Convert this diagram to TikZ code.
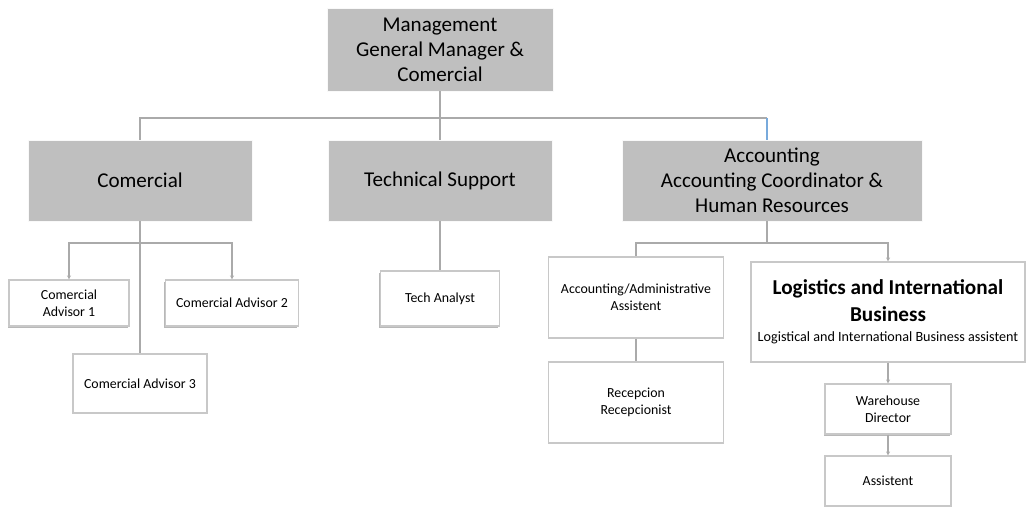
\documentclass[tikz,border=0pt]{standalone}
\usepackage{fontspec}
\setmainfont{Carlito}
\usetikzlibrary{arrows.meta,shadows}

\definecolor{boxgray}{RGB}{191,191,191}
\definecolor{linegray}{RGB}{170,170,170}
\definecolor{edgegray}{RGB}{200,200,200}
\definecolor{linkblue}{RGB}{120,170,220}

\tikzset{
  headbox/.style={fill=boxgray, draw=white!90!boxgray, line width=0.6pt, align=center,
    inner sep=2pt, font=\fontsize{15.8}{18.75}\selectfont},
  unitbox/.style={fill=white, draw=edgegray, line width=0.8pt, align=center,
    inner sep=2pt, font=\fontsize{10.4}{12.75}\selectfont},
  lifted/.style={drop shadow={shadow xshift=-0.8pt, shadow yshift=-1.4pt, fill=gray!70, opacity=0.8}},
  link/.style={draw=linegray, line width=1.4pt},
  tolink/.style={link, -{Stealth[length=3pt,width=3pt]}},
}

\begin{document}
\begin{tikzpicture}[x=0.75pt,y=-0.75pt]
  \useasboundingbox (0,0) rectangle (1029,507);

  % top level
  \node[headbox, minimum width=169.5pt, minimum height=62.25pt] (mgmt) at (440,49.5)
    {Management\\General Manager \&\\Comercial};

  % departments
  \node[headbox, minimum width=168pt, minimum height=60.75pt] (com) at (140,180.5) {Comercial};
  \node[headbox, minimum width=168pt, minimum height=60.75pt] (tech) at (440,180.5) {Technical Support};
  \node[headbox, minimum width=225pt, minimum height=60.75pt] (acc) at (772,180.5)
    {Accounting\\Accounting Coordinator \&\\Human Resources};

  % comercial staff
  \node[unitbox, lifted, minimum width=90pt, minimum height=34.5pt] (adv1) at (69,303) {Comercial\\Advisor 1};
  \node[unitbox, lifted, minimum width=99.75pt, minimum height=34.5pt] (adv2) at (232,303) {Comercial Advisor 2};
  \node[unitbox, minimum width=100.5pt, minimum height=44.25pt] (adv3) at (140,383.5) {Comercial Advisor 3};

  % technical staff
  \node[unitbox, lifted, minimum width=89.25pt, minimum height=41.25pt] (analyst) at (440,298.5) {Tech Analyst};

  % accounting staff
  \node[unitbox, minimum width=131.25pt, minimum height=60.75pt] (admin) at (636,297.5)
    {Accounting/Administrative\\Assistent};
  \node[unitbox, minimum width=131.25pt, minimum height=60.75pt] (recep) at (636,402.5)
    {Recepcion\\Recepcionist};
  \node[unitbox, minimum width=205.5pt, minimum height=75pt] (logi) at (888,312)
    {{\fontsize{15.9}{18.75}\selectfont\bfseries Logistics and International}\\[5pt]
     {\fontsize{15.9}{18.75}\selectfont\bfseries Business}\\[2.5pt]
     {\fontsize{10.6}{13}\selectfont Logistical and International Business assistent}};
  \node[unitbox, lifted, minimum width=94.5pt, minimum height=37.5pt] (ware) at (888,409)
    {Warehouse\\Director};
  \node[unitbox, minimum width=94.5pt, minimum height=37.5pt] (asst) at (888,481) {Assistent};

  % management to departments
  \draw[link] (mgmt.south) -- (tech.north);
  \draw[link] (com.north) |- (440,118) -- (767,118);
  \draw[link, draw=linkblue, line width=1pt] (767,118) -- (acc.north -| 767,0);

  % comercial branch
  \draw[link] (com.south) -- (adv3.north);
  \draw[tolink] (com.south |- 0,243) -| (adv1.north);
  \draw[tolink] (com.south |- 0,243) -| (adv2.north);

  % technical branch
  \draw[link] (tech.south) -- (analyst.north);

  % accounting branch
  \draw[link] (acc.south -| 767,0) -- (767,243) coordinate (split);
  \draw[link] (split) -| (admin.north);
  \draw[tolink] (split) -| (logi.north);
  \draw[link] (admin.south) -- (recep.north);
  \draw[tolink] (logi.south) -- (ware.north);
  \draw[tolink] (ware.south) -- (asst.north);
\end{tikzpicture}
\end{document}
